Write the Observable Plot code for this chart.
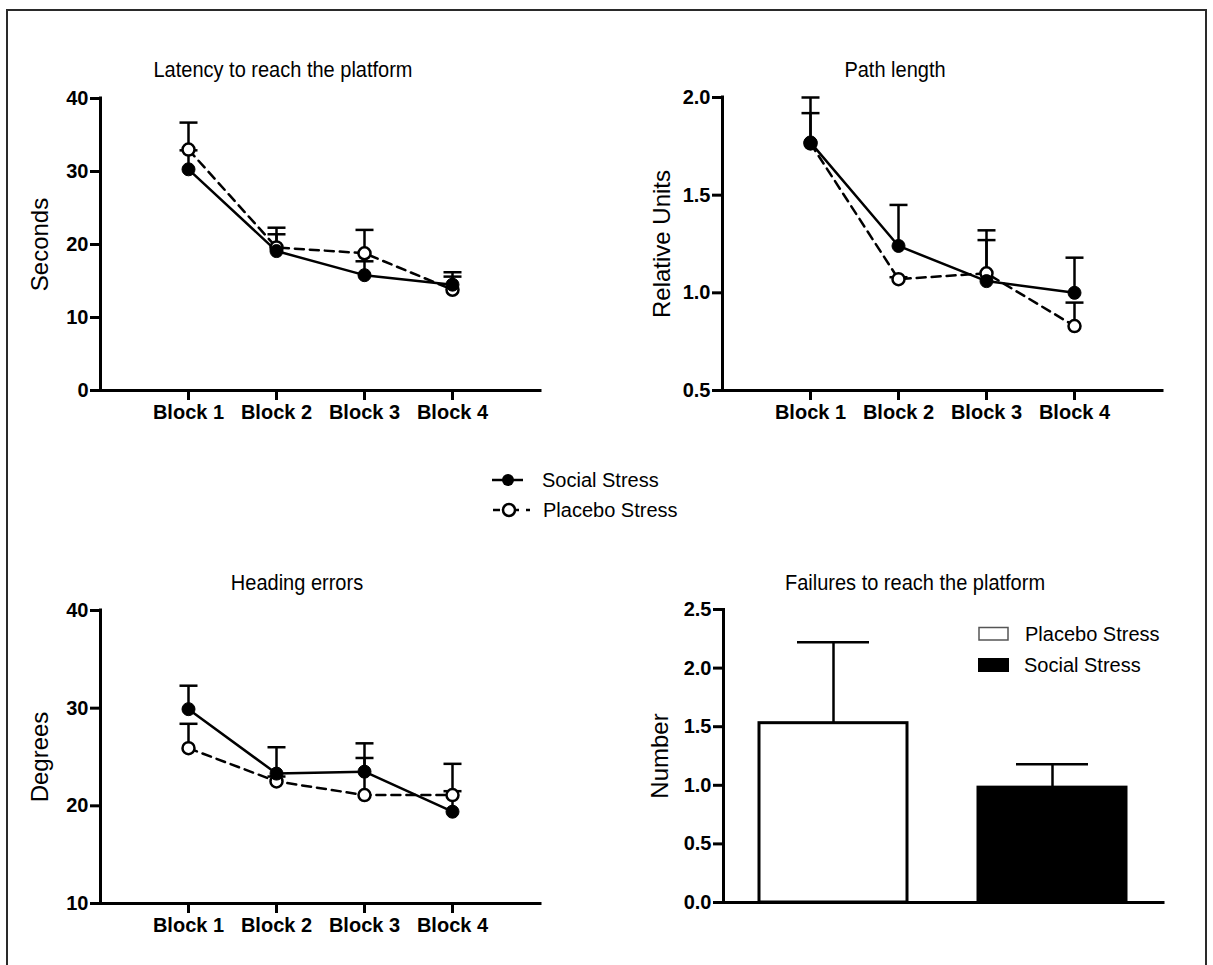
<!DOCTYPE html>
<html>
<head>
<meta charset="utf-8">
<script src="https://cdn.jsdelivr.net/npm/d3@7"></script>
<script src="https://cdn.jsdelivr.net/npm/@observablehq/plot@0.6"></script>
<style>
html, body { margin: 0; padding: 0; background: #fff; }
#root { position: relative; width: 1213px; height: 965px; overflow: hidden; font-family: "Liberation Sans", Arial, sans-serif; color: #000; background: #fff; }
.border { position: absolute; left: 6px; top: 9px; width: 1201px; height: 1000px; border: 2px solid #2a2a2a; box-sizing: border-box; }
.panel { position: absolute; }
.title { position: absolute; font-size: 20px; line-height: 20px; white-space: nowrap; transform: translateX(-50%) scaleY(1.1); }
.legtext { position: absolute; font-size: 20px; line-height: 20px; white-space: nowrap; }
svg.sw { position: absolute; overflow: visible; }
[aria-label$="tick label"] text { font-weight: bold; }
</style>
</head>
<body>
<div id="root">
  <div class="border"></div>
  <div class="title" style="left:283px;top:59px;">Latency to reach the platform</div>
  <div class="title" style="left:895px;top:59px;">Path length</div>
  <div class="title" style="left:297px;top:572px;">Heading errors</div>
  <div class="title" style="left:915px;top:572px;">Failures to reach the platform</div>
  <div id="tl" class="panel" style="left:0px;top:80px;"></div>
  <div id="tr" class="panel" style="left:610px;top:80px;"></div>
  <div id="bl" class="panel" style="left:0px;top:590px;"></div>
  <div id="br" class="panel" style="left:610px;top:590px;"></div>
  <div id="legend"></div>
</div>
<script>
// ---------- data ----------
const blocks = ["Block 1", "Block 2", "Block 3", "Block 4"];
const groups = ["Social Stress", "Placebo Stress"];

const latencySocial = [30.3, 19.1, 15.8, 14.5];
const latencySocialErr = [2.6, 2.3, 1.9, 1.7];
const latencyPlacebo = [33.0, 19.6, 18.8, 13.8];
const latencyPlaceboErr = [3.7, 2.7, 3.2, 1.8];

const pathSocial = [1.77, 1.24, 1.06, 1.00];
const pathSocialErr = [0.23, 0.21, 0.26, 0.18];
const pathPlacebo = [1.765, 1.07, 1.10, 0.83];
const pathPlaceboErr = [0.155, 0.01, 0.17, 0.12];

const headingSocial = [29.9, 23.3, 23.5, 19.4];
const headingSocialErr = [2.4, 2.7, 2.9, 2.1];
const headingPlacebo = [25.9, 22.5, 21.1, 21.1];
const headingPlaceboErr = [2.5, 0.5, 3.8, 3.2];

const failureGroups = ["Placebo Stress", "Social Stress"];
const failureMeans = [1.53, 0.98];
const failureErr = [0.69, 0.20];
const failureFill = ["#fff", "#000"];

// ---------- helpers ----------
const FONT = '"Liberation Sans", Arial, sans-serif';
const capSymbol = {
  draw(ctx, size) {
    const w = Math.sqrt(size / Math.PI);
    ctx.moveTo(-w, 0);
    ctx.lineTo(w, 0);
  }
};

function linePanel(o) {
  const rows = (vals, errs, g) => vals.map((v, i) => ({x: i + 1, v, top: v + errs[i], g}));
  const s = rows(o.social, o.socialErr, groups[0]);
  const p = rows(o.placebo, o.placeboErr, groups[1]);
  const all = [...p, ...s];
  const W = 600, H = 360, FW = 440;
  return Plot.plot({
    width: W, height: H,
    marginLeft: o.ml, marginRight: W - o.ml - FW, marginTop: o.mt, marginBottom: o.mb,
    x: {domain: [0, 5], axis: null},
    y: {domain: o.domain, axis: null},
    style: {fontFamily: FONT, color: "#000", background: "transparent", overflow: "visible"},
    marks: [
      Plot.line(p, {x: "x", y: "v", stroke: "#000", strokeWidth: 2.5, strokeDasharray: "9,6"}),
      Plot.line(s, {x: "x", y: "v", stroke: "#000", strokeWidth: 2.5}),
      Plot.ruleX(all, {x: "x", y1: "v", y2: "top", stroke: "#000", strokeWidth: 2.5}),
      Plot.dot(all, {x: "x", y: "top", symbol: capSymbol, r: 9, fill: "none", stroke: "#000", strokeWidth: 2.5}),
      Plot.dot(p, {x: "x", y: "v", r: 6, fill: "#fff", stroke: "#000", strokeWidth: 2.5}),
      Plot.dot(s, {x: "x", y: "v", r: 6.5, fill: "#000", stroke: "#000", strokeWidth: 1}),
      Plot.ruleY([o.domain[0]], {stroke: "#000", strokeWidth: 3, strokeLinecap: "square"}),
      Plot.ruleX([0], {stroke: "#000", strokeWidth: 3, strokeLinecap: "square"}),
      Plot.axisY({ticks: o.ticks, tickFormat: o.fmt, tickSize: 10, tickPadding: 2, strokeWidth: 3,
                  fontSize: 20, fontWeight: "bold", label: null}),
      Plot.axisX({ticks: [1, 2, 3, 4], tickFormat: d => blocks[d - 1], tickSize: 10, tickPadding: 4,
                  strokeWidth: 3, fontSize: 20, fontWeight: "bold", label: null}),
      Plot.text([o.label], {frameAnchor: "left", textAnchor: "middle", rotate: -90, dx: o.labelDx, fontSize: 24, fill: "#000"})
    ]
  });
}

// ---------- panels ----------
document.getElementById("tl").appendChild(linePanel({
  social: latencySocial, socialErr: latencySocialErr, placebo: latencyPlacebo, placeboErr: latencyPlaceboErr,
  domain: [0, 40], ticks: [0, 10, 20, 30, 40], fmt: d3.format("d"), label: "Seconds",
  ml: 100, mt: 18, mb: 50, labelDx: -60
}));
document.getElementById("tr").appendChild(linePanel({
  social: pathSocial, socialErr: pathSocialErr, placebo: pathPlacebo, placeboErr: pathPlaceboErr,
  domain: [0.5, 2.0], ticks: [0.5, 1.0, 1.5, 2.0], fmt: d3.format(".1f"), label: "Relative Units",
  ml: 112, mt: 17, mb: 50, labelDx: -60
}));
document.getElementById("bl").appendChild(linePanel({
  social: headingSocial, socialErr: headingSocialErr, placebo: headingPlacebo, placeboErr: headingPlaceboErr,
  domain: [10, 40], ticks: [10, 20, 30, 40], fmt: d3.format("d"), label: "Degrees",
  ml: 100, mt: 20, mb: 47, labelDx: -60
}));

const failRows = failureGroups.map((g, i) => ({g, v: failureMeans[i], top: failureMeans[i] + failureErr[i], fill: failureFill[i]}));
document.getElementById("br").appendChild(Plot.plot({
  width: 600, height: 360,
  marginLeft: 113, marginRight: 47, marginTop: 19, marginBottom: 48,
  x: {domain: failureGroups, paddingInner: 0.324, paddingOuter: 0.165, axis: null},
  y: {domain: [0, 2.5], axis: null},
  style: {fontFamily: FONT, color: "#000", background: "transparent", overflow: "visible"},
  marks: [
    Plot.ruleX(failRows, {x: "g", y1: "v", y2: "top", stroke: "#000", strokeWidth: 2.5}),
    Plot.tickY(failRows, {x: "g", y: "top", stroke: "#000", strokeWidth: 2.5, insetLeft: 38, insetRight: 38}),
    Plot.barY(failRows, {x: "g", y: "v", fill: "fill", stroke: "#000", strokeWidth: 3}),
    Plot.ruleY([0], {stroke: "#000", strokeWidth: 3, strokeLinecap: "square"}),
    Plot.frame({anchor: "left", stroke: "#000", strokeWidth: 3}),
    Plot.axisY({ticks: [0, 0.5, 1.0, 1.5, 2.0, 2.5], tickFormat: d3.format(".1f"), tickSize: 10, tickPadding: 2,
                strokeWidth: 3, fontSize: 20, fontWeight: "bold", label: null}),
    Plot.text(["Number"], {frameAnchor: "left", textAnchor: "middle", rotate: -90, dx: -63, fontSize: 24, fill: "#000"})
  ]
}));

// ---------- legends ----------
const legend = document.getElementById("legend");
legend.innerHTML = `
  <svg class="sw" style="left:0;top:0;" width="1213" height="965">
    <line x1="492" y1="480" x2="523" y2="480" stroke="#000" stroke-width="2.5"/>
    <circle cx="508" cy="480" r="6" fill="#000"/>
    <line x1="493" y1="510" x2="500" y2="510" stroke="#000" stroke-width="2.5"/>
    <line x1="516" y1="510" x2="519" y2="510" stroke="#000" stroke-width="2.5"/>
    <line x1="526" y1="510" x2="530" y2="510" stroke="#000" stroke-width="2.5"/>
    <circle cx="509" cy="510" r="6" fill="#fff" stroke="#000" stroke-width="2.5"/>
    <rect x="979" y="627.5" width="29" height="12.5" fill="#fff" stroke="#555" stroke-width="1.5"/>
    <rect x="978" y="658" width="31" height="14" fill="#000"/>
  </svg>
  <div class="legtext" style="left:542px;top:470px;">${groups[0]}</div>
  <div class="legtext" style="left:543px;top:500px;">${groups[1]}</div>
  <div class="legtext" style="left:1025px;top:624px;">${failureGroups[0]}</div>
  <div class="legtext" style="left:1024px;top:655px;">${failureGroups[1]}</div>
`;
</script>
</body>
</html>
